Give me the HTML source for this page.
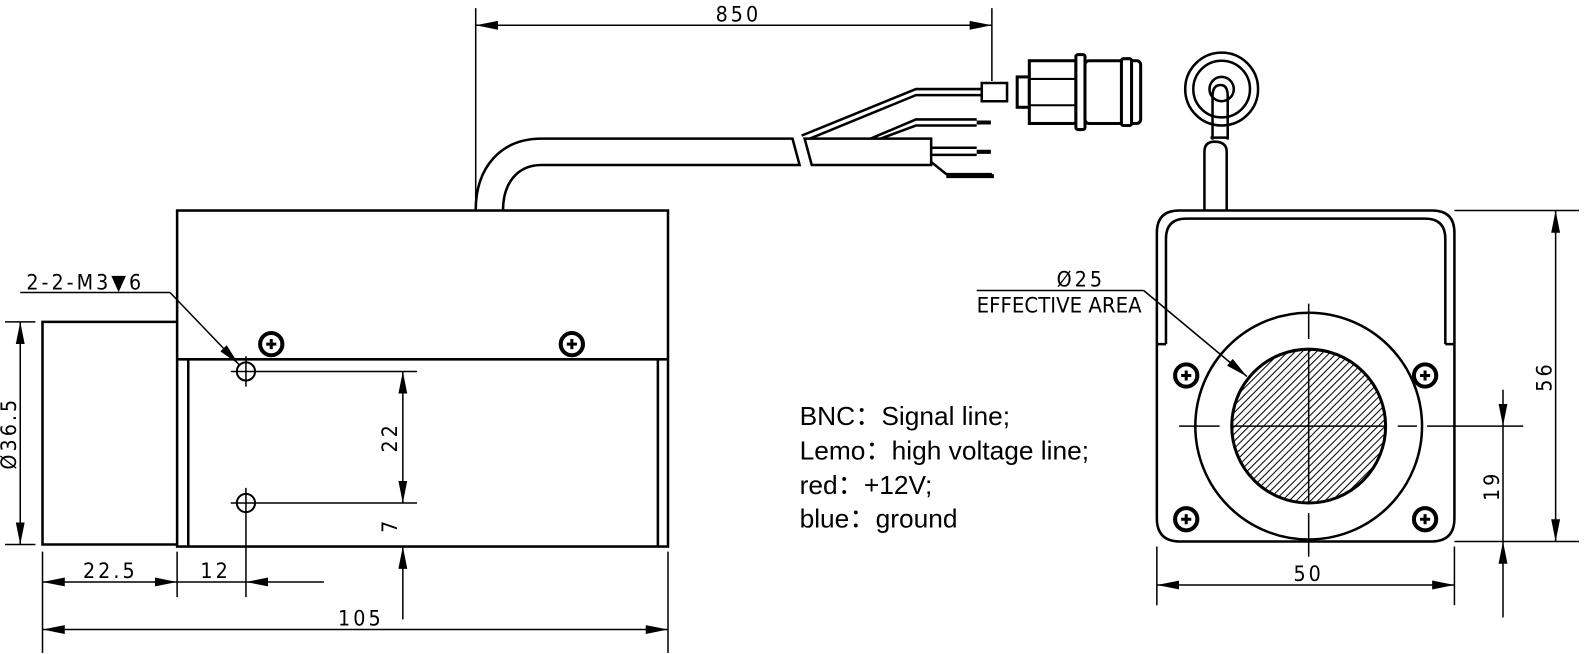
<!DOCTYPE html>
<html><head><meta charset="utf-8"><style>
html,body{margin:0;padding:0;background:#fff;overflow:hidden}
svg{display:block}
.t{font-family:"Liberation Sans Narrow","DejaVu Sans Condensed","Liberation Sans",sans-serif;font-size:21px;letter-spacing:3px}
.n{font-family:"Liberation Sans","Noto Sans CJK SC",sans-serif;font-size:26px}
</style></head><body>
<svg width="1586" height="654" viewBox="0 0 1567 646" preserveAspectRatio="xMinYMin meet" xmlns="http://www.w3.org/2000/svg">
<defs>
<marker id="a" viewBox="0 0 20 8" refX="20" refY="4" markerWidth="22" markerHeight="9" markerUnits="userSpaceOnUse" orient="auto-start-reverse"><path d="M0,0 L20,4 L0,8 z" fill="#000"/></marker>
<pattern id="h" width="5" height="5" patternUnits="userSpaceOnUse" patternTransform="rotate(45)"><rect width="5" height="5" fill="#fff"/><line x1="0" y1="0" x2="0" y2="5" stroke="#000" stroke-width="2"/></pattern>
</defs>
<g fill="none" stroke="#000" stroke-width="2.5">
<rect x="175" y="208" width="485" height="332"/>
<line x1="175" y1="355" x2="660" y2="355"/>
<line x1="186" y1="355" x2="186" y2="540"/>
<line x1="650" y1="355" x2="650" y2="540"/>
<polyline points="175,318 42,318 42,538 175,538"/>
<circle cx="268" cy="340" r="11" stroke-width="4"/>
<circle cx="565" cy="340" r="11" stroke-width="4"/>
<circle cx="243" cy="367" r="9" stroke-width="2"/>
<circle cx="243" cy="497" r="9" stroke-width="2"/>
</g>
<g stroke="#000" stroke-width="3"><path d="M263,340h10M268,335v10M560,340h10M565,335v10"/></g>
<g fill="none" stroke="#000" stroke-width="1.5">
<path d="M243,352V382M228,367H412M243,482V590M228,497H412"/>
<line x1="398" y1="367" x2="398" y2="497" marker-start="url(#a)" marker-end="url(#a)"/>
<line x1="398" y1="612" x2="398" y2="540" marker-end="url(#a)"/>
<polyline points="20,289 168,289"/>
<line x1="168" y1="289" x2="236" y2="360" marker-end="url(#a)"/>
<path d="M5,318H35M5,538H35"/>
<line x1="20" y1="318" x2="20" y2="538" marker-start="url(#a)" marker-end="url(#a)"/>
<path d="M42,545V645M175,545V590M660,545V645"/>
<line x1="42" y1="575" x2="175" y2="575" marker-start="url(#a)" marker-end="url(#a)"/>
<line x1="320" y1="575" x2="243" y2="575" marker-end="url(#a)"/>
<line x1="175" y1="575" x2="243" y2="575"/>
<line x1="42" y1="622" x2="660" y2="622" marker-start="url(#a)" marker-end="url(#a)"/>
<path d="M470,8V208M980,8V80"/>
<line x1="470" y1="25" x2="980" y2="25" marker-start="url(#a)" marker-end="url(#a)"/>
</g>
<g fill="none" stroke="#000" stroke-width="2.5">
<path d="M470,208 C470,165 495,137 535,137 H783 L790,163 H535 C512,163 497,180 497,208"/>
<path d="M795,137 L802,163 H920 V137 Z"/>
<path d="M792,134 L905,88 H970 M800,137 L905,94 H970"/>
<path d="M970,82 V100 H995 V82 Z"/>
<path d="M860,137 L905,118 H965 M870,137 L905,124 H965"/>
<path d="M920,146 H965 M920,153 H965"/>
<path d="M920,160 L935,172 H980"/>
</g>
<g stroke="#000" stroke-width="4"><path d="M965,121h14M965,150h14M935,174h47"/></g>
<g fill="#fff" stroke="#000" stroke-width="3">
<rect x="1005" y="76" width="12" height="30"/>
<rect x="1017" y="60" width="46" height="62"/>
<rect x="1063" y="54" width="9" height="74" rx="2"/>
<rect x="1072" y="60" width="55" height="62" rx="4"/>
<rect x="1108" y="58" width="10" height="66" rx="2"/>
</g>
<g stroke="#000" stroke-width="2"><path d="M1017,78H1063M1017,104H1063"/></g>
<g fill="none" stroke="#000" stroke-width="2.5">
<path d="M1143,340 V230 Q1143,208 1165,208 H1415 Q1437,208 1437,230 V340"/>
<path d="M1152,340 V236 Q1152,216 1172,216 H1408 Q1428,216 1428,236 V340"/>
<path d="M1143,340 H1152 M1428,340 H1437"/>
<path d="M1143,340 V512 Q1143,535 1166,535 H1414 Q1437,535 1437,512 V340"/>
<circle cx="1293" cy="421" r="112"/>
<circle cx="1172" cy="371" r="11" stroke-width="4"/>
<circle cx="1408" cy="371" r="11" stroke-width="4"/>
<circle cx="1172" cy="513" r="11" stroke-width="4"/>
<circle cx="1408" cy="513" r="11" stroke-width="4"/>
<path d="M1190,208 V150 Q1190,140 1200,140 Q1212,140 1212,150 V208"/>
<circle cx="1207" cy="88" r="36"/>
<circle cx="1207" cy="88" r="28"/>
<circle cx="1207" cy="88" r="12"/>
<path d="M1198,138 V95 Q1198,84 1206,84 Q1213,84 1213,95 V138 M1196,136 H1214"/>
</g>
<g stroke="#000" stroke-width="3"><path d="M1167,371h10M1172,366v10M1403,371h10M1408,366v10M1167,513h10M1172,508v10M1403,513h10M1408,508v10"/></g>
<circle cx="1293" cy="421" r="76" fill="url(#h)" stroke="#000" stroke-width="3"/>
<g fill="none" stroke="#000" stroke-width="1.5">
<path d="M1165,421H1205M1217,421H1369M1381,421H1400M1410,421H1505M1293,300V335M1293,345V497M1293,507V550"/>
<polyline points="965,287 1130,287"/>
<line x1="1130" y1="287" x2="1232" y2="372" marker-end="url(#a)"/>
<path d="M1437,208H1560M1437,535H1560"/>
<line x1="1537" y1="208" x2="1537" y2="535" marker-start="url(#a)" marker-end="url(#a)"/>
<line x1="1485" y1="385" x2="1485" y2="421" marker-end="url(#a)"/>
<line x1="1485" y1="610" x2="1485" y2="535" marker-end="url(#a)"/>
<line x1="1485" y1="421" x2="1485" y2="535"/>
<path d="M1143,540V598M1437,540V598"/>
<line x1="1143" y1="578" x2="1437" y2="578" marker-start="url(#a)" marker-end="url(#a)"/>
</g>
<g class="t" fill="#000">
<text x="26" y="286">2-2-M3▼6</text>
<text x="707" y="21">850</text>
<text x="82" y="571">22.5</text>
<text x="198" y="571">12</text>
<text x="334" y="618">105</text>
<text transform="translate(16,428) rotate(-90)" text-anchor="middle">Ø36.5</text>
<text transform="translate(392,432) rotate(-90)" text-anchor="middle">22</text>
<text transform="translate(392,519) rotate(-90)" text-anchor="middle">7</text>
<text x="1044" y="283">Ø25</text>
<text x="965" y="309" textLength="163" lengthAdjust="spacingAndGlyphs" style="letter-spacing:0">EFFECTIVE AREA</text>
<text transform="translate(1533,372) rotate(-90)" text-anchor="middle">56</text>
<text transform="translate(1481,480) rotate(-90)" text-anchor="middle">19</text>
<text x="1278" y="574">50</text>
</g>
<g class="n" fill="#000">
<text x="790" y="420">BNC：Signal line;</text>
<text x="790" y="454">Lemo：high voltage line;</text>
<text x="790" y="488">red：+12V;</text>
<text x="790" y="521">blue：ground</text>
</g>
</svg>
</body></html>
